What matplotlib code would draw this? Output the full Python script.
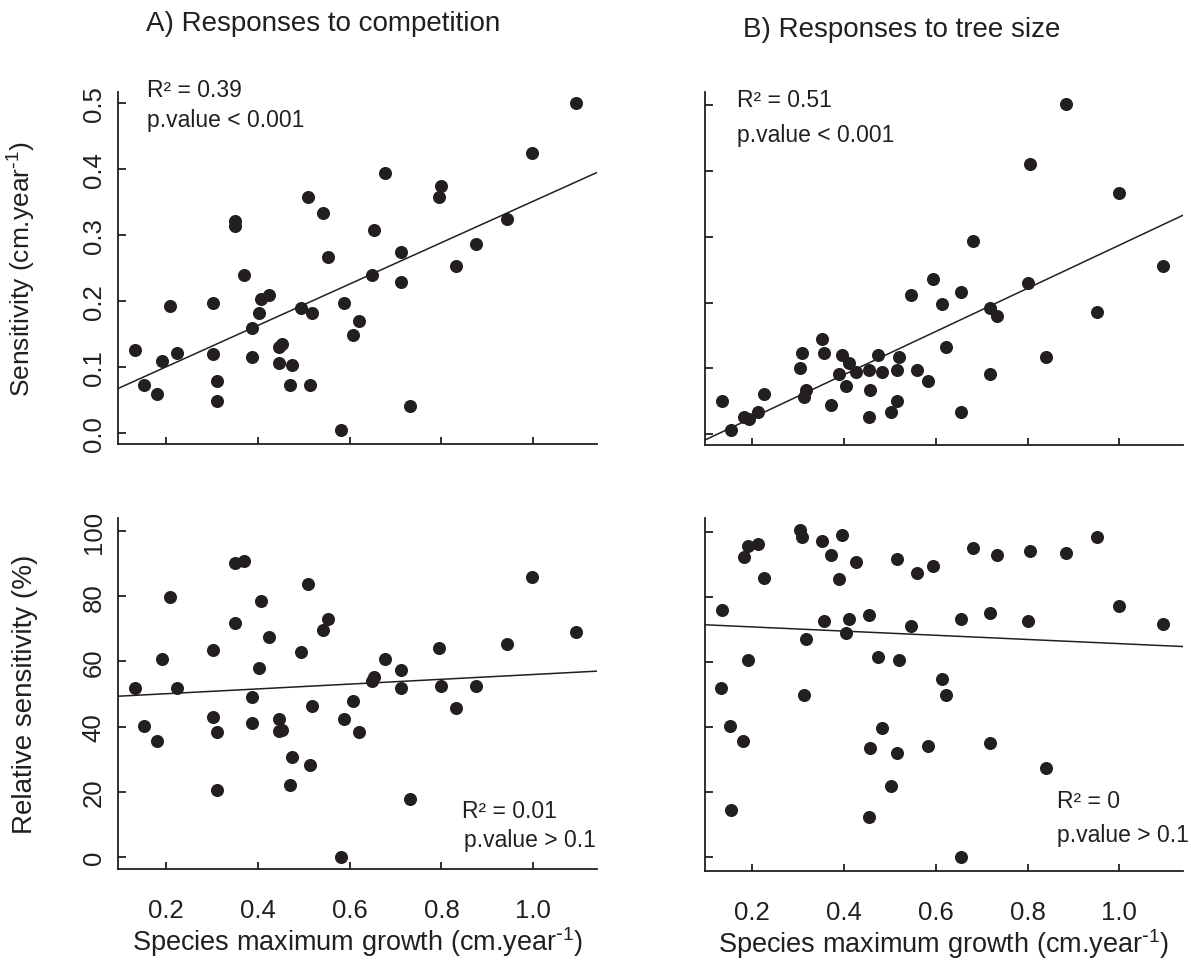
import matplotlib
matplotlib.use('Agg')
import matplotlib.pyplot as plt

plt.rcParams['font.family'] = ['Liberation Sans', 'DejaVu Sans']
plt.rcParams['mathtext.default'] = 'regular'

# ---------------- data ----------------
# Panel A / C share the species maximum growth values
growth_comp = [0.133, 0.151, 0.181, 0.191, 0.209, 0.224, 0.302, 0.302, 0.311, 0.311,
               0.350, 0.350, 0.369, 0.388, 0.388, 0.403, 0.408, 0.424, 0.447, 0.447,
               0.452, 0.470, 0.475, 0.494, 0.509, 0.514, 0.519, 0.543, 0.553, 0.582,
               0.587, 0.607, 0.620, 0.649, 0.654, 0.678, 0.712, 0.712, 0.731, 0.794,
               0.798, 0.832, 0.875, 0.943, 0.997, 1.094]
sens_comp = [0.126, 0.073, 0.059, 0.110, 0.193, 0.122, 0.197, 0.120, 0.079, 0.049,
             0.321, 0.314, 0.240, 0.160, 0.116, 0.183, 0.204, 0.210, 0.131, 0.106,
             0.136, 0.073, 0.103, 0.190, 0.358, 0.073, 0.183, 0.334, 0.267, 0.005,
             0.197, 0.149, 0.170, 0.240, 0.308, 0.395, 0.274, 0.230, 0.042, 0.358,
             0.375, 0.254, 0.287, 0.325, 0.425, 0.500]
relsens_comp = [51.8, 40.2, 35.6, 60.7, 79.8, 51.8, 63.5, 43.0, 38.3, 20.6,
                90.2, 71.7, 90.8, 49.2, 41.0, 58.0, 78.5, 67.5, 42.3, 38.5,
                38.9, 21.9, 30.7, 62.8, 83.9, 28.1, 46.4, 69.6, 72.9, 0.0,
                42.3, 47.7, 38.3, 53.9, 55.3, 60.7, 57.3, 51.8, 17.8, 64.1,
                52.6, 45.7, 52.6, 65.5, 85.9, 69.0]

growth_size = [0.134, 0.153, 0.183, 0.193, 0.212, 0.226, 0.303, 0.309, 0.313, 0.318,
               0.352, 0.356, 0.372, 0.390, 0.395, 0.405, 0.410, 0.425, 0.454, 0.454,
               0.457, 0.473, 0.483, 0.502, 0.515, 0.515, 0.520, 0.545, 0.559, 0.584,
               0.594, 0.614, 0.622, 0.656, 0.656, 0.680, 0.718, 0.718, 0.733, 0.801,
               0.805, 0.840, 0.883, 0.951, 1.000, 1.096]
sens_size = [0.051, 0.007, 0.027, 0.023, 0.034, 0.061, 0.101, 0.124, 0.057, 0.067,
             0.145, 0.124, 0.044, 0.091, 0.121, 0.074, 0.108, 0.095, 0.098, 0.027,
             0.067, 0.121, 0.095, 0.034, 0.098, 0.051, 0.118, 0.212, 0.098, 0.081,
             0.235, 0.198, 0.132, 0.216, 0.034, 0.293, 0.192, 0.091, 0.179, 0.229,
             0.411, 0.118, 0.502, 0.185, 0.367, 0.256]

growth_size_rel = [0.132, 0.134, 0.152, 0.153, 0.180, 0.182, 0.190, 0.190, 0.212, 0.226,
                   0.303, 0.309, 0.313, 0.318, 0.352, 0.356, 0.372, 0.390, 0.395, 0.405,
                   0.410, 0.425, 0.454, 0.454, 0.457, 0.473, 0.483, 0.502, 0.515, 0.515,
                   0.520, 0.545, 0.559, 0.584, 0.594, 0.614, 0.622, 0.656, 0.656, 0.680,
                   0.718, 0.718, 0.733, 0.801, 0.805, 0.840, 0.883, 0.951, 1.000, 1.096]
relsens_size = [51.9, 75.8, 40.2, 14.4, 35.6, 92.1, 95.7, 60.7, 96.3, 85.9,
                100.4, 98.3, 49.8, 67.0, 97.0, 72.4, 92.8, 85.3, 99.0, 69.0,
                73.1, 90.8, 74.5, 12.3, 33.4, 61.4, 39.6, 21.8, 91.5, 32.1,
                60.7, 71.0, 87.4, 34.2, 89.3, 54.6, 49.8, 73.1, 0.0, 94.9,
                75.1, 34.9, 92.8, 72.4, 94.2, 27.4, 93.5, 98.3, 77.2, 71.7]

# fitted regression lines (intercept, slope)
fit_A = (0.0379, 0.3138)
fit_B = (-0.0404, 0.3275)
fit_C = (48.6, 7.39)
fit_D = (72.0, -6.42)

r2_labels = ['R\u00b2 = 0.39', 'R\u00b2 = 0.51', 'R\u00b2 = 0.01', 'R\u00b2 = 0']
p_labels = ['p.value < 0.001', 'p.value < 0.001', 'p.value > 0.1', 'p.value > 0.1']

x_ticks = [0.2, 0.4, 0.6, 0.8, 1.0]
x_ticklabels = ['0.2', '0.4', '0.6', '0.8', '1.0']
y_ticks_abs = [0.0, 0.1, 0.2, 0.3, 0.4, 0.5]
y_ticklabels_abs = ['0.0', '0.1', '0.2', '0.3', '0.4', '0.5']
y_ticks_rel = [0, 20, 40, 60, 80, 100]
y_ticklabels_rel = ['0', '20', '40', '60', '80', '100']

titles = ['A) Responses to competition', 'B) Responses to tree size']
xlabel = 'Species maximum growth (cm.year$^{\\text{-}1}$)'
ylabel_abs = 'Sensitivity (cm.year$^{\\text{-}1}$)'
ylabel_rel = 'Relative sensitivity (%)'

# ---------------- figure ----------------
W, H = 1191, 970
fig = plt.figure(figsize=(W / 100, H / 100), dpi=100)
INK = '#231f20'


def rect(l, t, r, b):
    return [l / W, 1 - b / H, (r - l) / W, (b - t) / H]


def px(x, y):
    return (x / W, 1 - y / H)


panels = [
    dict(rect=rect(118.3, 92.7, 596.7, 445.0), x=growth_comp, y=sens_comp, fit=fit_A,
         xlim=(0.0961, 1.1381), ylim=(-0.0162, 0.5176), yt=y_ticks_abs, ytl=y_ticklabels_abs,
         ylab=ylabel_abs, ylabsize=19, xlab=False, ylabs=True,
         r2=(146.7, 96.7), p=(146.7, 126.7)),
    dict(rect=rect(705.0, 92.7, 1183.3, 445.7), x=growth_size, y=sens_size, fit=fit_B,
         xlim=(0.0969, 1.1395), ylim=(-0.0158, 0.5201), yt=y_ticks_abs, ytl=y_ticklabels_abs,
         ylab=None, ylabsize=19, xlab=False, ylabs=False,
         r2=(736.7, 106.7), p=(736.7, 141.7)),
    dict(rect=rect(118.3, 519.3, 596.7, 870.0), x=growth_comp, y=relsens_comp, fit=fit_C,
         xlim=(0.0961, 1.1381), ylim=(-3.8, 104.0), yt=y_ticks_rel, ytl=y_ticklabels_rel,
         ylab=ylabel_rel, ylabsize=20, xlab=True, ylabs=True,
         r2=(461.7, 818.3), p=(464.0, 846.7)),
    dict(rect=rect(705.0, 519.3, 1183.3, 871.7), x=growth_size_rel, y=relsens_size, fit=fit_D,
         xlim=(0.0969, 1.1395), ylim=(-4.2, 104.1), yt=y_ticks_rel, ytl=y_ticklabels_rel,
         ylab=None, ylabsize=19, xlab=True, ylabs=False,
         r2=(1056.7, 808.3), p=(1056.7, 841.7)),
]

for i, P in enumerate(panels):
    ax = fig.add_axes(P['rect'])
    ax.set_xlim(*P['xlim'])
    ax.set_ylim(*P['ylim'])
    ax.plot(P['x'], P['y'], 'o', ms=9.4, color=INK, mew=0, zorder=3)
    b0, b1 = P['fit']
    ax.axline((0, b0), slope=b1, color=INK, lw=1.1, zorder=2)
    for s in ['top', 'right']:
        ax.spines[s].set_visible(False)
    for s in ['left', 'bottom']:
        ax.spines[s].set_linewidth(1.3)
        ax.spines[s].set_color(INK)
    ax.set_xticks(x_ticks)
    ax.set_yticks(P['yt'])
    ax.tick_params(direction='in', length=5.4, width=1.3, color=INK, labelcolor=INK,
                   labelsize=18.5)
    if P['xlab']:
        ax.set_xticklabels(x_ticklabels)
        ax.tick_params(axis='x', pad=21)
        ax.set_xlabel(xlabel, fontsize=19.5, color=INK)
        ax.xaxis.set_label_coords(0.5, -0.158)
    else:
        ax.set_xticklabels([])
    if P['ylabs']:
        ax.set_yticklabels(P['ytl'])
        ax.tick_params(axis='y', labelrotation=90, pad=9)
        for lb in ax.get_yticklabels():
            lb.set_verticalalignment('center')
        ax.set_ylabel(P['ylab'], fontsize=P['ylabsize'], color=INK)
        ax.yaxis.set_label_coords(-0.168, 0.5)
    else:
        ax.set_yticklabels([])
    fig.text(*px(*P['r2']), r2_labels[i], fontsize=16.5, color=INK, ha='left', va='baseline')
    fig.text(*px(*P['p']), p_labels[i], fontsize=16.5, color=INK, ha='left', va='baseline')

fig.text(*px(145.5, 31.0), titles[0], fontsize=20, color=INK, ha='left', va='baseline')
fig.text(*px(743.3, 36.7), titles[1], fontsize=20, color=INK, ha='left', va='baseline')

fig.savefig('out.png', dpi=100)
